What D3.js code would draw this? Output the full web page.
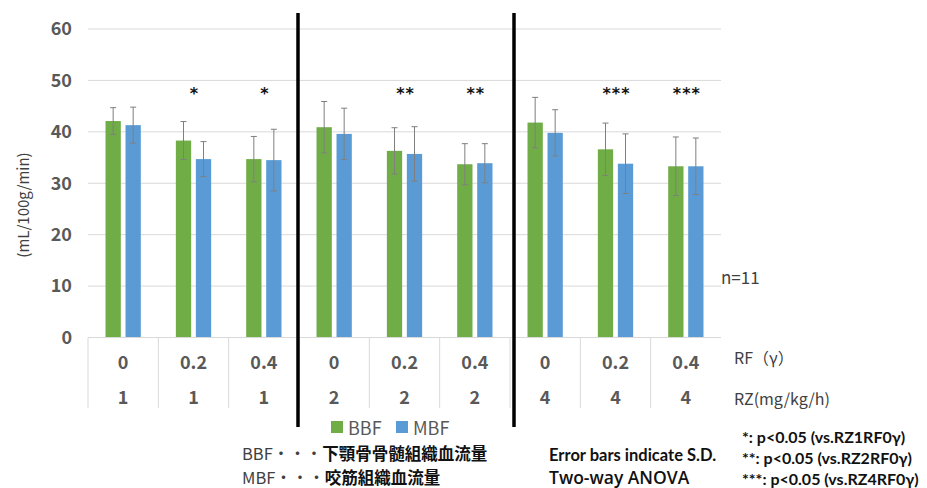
<!DOCTYPE html>
<html>
<head>
<meta charset="utf-8">
<script src="https://cdn.jsdelivr.net/npm/d3@7"></script>
<style>
  html, body { margin: 0; padding: 0; background: #fff; }
  svg { display: block; }
</style>
</head>
<body>
<svg id="chart" width="927" height="488"></svg>
<script>
// Categories: RF dose (row 1) and RZ dose (row 2)
const rfLabels = ["0", "0.2", "0.4", "0", "0.2", "0.4", "0", "0.2", "0.4"];
const rzLabels = ["1", "1", "1", "2", "2", "2", "4", "4", "4"];
const seriesNames = ["BBF", "MBF"];

// Mean blood flow (mL/100g/min)
const bbfMean = [42.1, 38.3, 34.7, 40.9, 36.3, 33.7, 41.8, 36.6, 33.3];
const mbfMean = [41.3, 34.7, 34.5, 39.6, 35.7, 33.9, 39.8, 33.8, 33.3];
// Standard deviations
const bbfSD = [2.6, 3.7, 4.4, 5.0, 4.5, 4.0, 4.9, 5.1, 5.7];
const mbfSD = [3.5, 3.4, 6.0, 5.0, 5.3, 3.8, 4.5, 5.8, 5.5];

// Significance marks above each category
const sigMarks = ["", "*", "*", "", "**", "**", "", "***", "***"];

const yTicks = [0, 10, 20, 30, 40, 50, 60];
const noteLines = [
  "*: p<0.05 (vs.RZ1RF0\u03b3)",
  "**: p<0.05 (vs.RZ2RF0\u03b3)",
  "***: p<0.05 (vs.RZ4RF0\u03b3)"
];

const colors = { BBF: "#70ad47", MBF: "#5b9bd5" };
const gridColor = "#d9d9d9";
const labelColor = "#595959";
const jpFont = "'Noto Sans CJK JP', 'Noto Sans', sans-serif";

const svg = d3.select("#chart");
svg.append("rect").attr("width", 927).attr("height", 488).attr("fill", "#fff");

const plot = { left: 88, right: 721, top: 29, bottom: 337.5 };
const idx = d3.range(rfLabels.length);

const x = d3.scaleBand().domain(idx).range([plot.left, plot.right]).padding(0);
const x1 = d3.scaleBand().domain(seriesNames)
  .range([0, 35.3]).paddingInner(0.235).paddingOuter(0);
const groupOffset = (x.bandwidth() - 35.3) / 2;
const y = d3.scaleLinear().domain([0, 60]).range([plot.bottom, plot.top]);

// Gridlines
svg.append("g").selectAll("line").data(yTicks).join("line")
  .attr("x1", plot.left).attr("x2", plot.right)
  .attr("y1", d => y(d)).attr("y2", d => y(d))
  .attr("stroke", gridColor).attr("stroke-width", 1);

// Y axis labels
const yAxis = d3.axisLeft(y).tickValues(yTicks).tickSize(0).tickPadding(16);
const yg = svg.append("g").attr("transform", `translate(${plot.left},0)`).call(yAxis);
yg.select(".domain").remove();
yg.selectAll("text")
  .attr("fill", labelColor)
  .style("font-family", jpFont)
  .style("font-size", "18px")
  .style("font-weight", "bold");

// Y axis title
svg.append("text")
  .attr("transform", "translate(22,205) rotate(-90)")
  .attr("text-anchor", "middle").attr("dominant-baseline", "central")
  .attr("fill", "#404040")
  .style("font-family", jpFont).style("font-size", "15px")
  .text("(mL/100g/min)");

// Bars + error bars
const rows = [];
idx.forEach(i => {
  rows.push({ i, s: "BBF", v: bbfMean[i], sd: bbfSD[i] });
  rows.push({ i, s: "MBF", v: mbfMean[i], sd: mbfSD[i] });
});
const barX = d => x(d.i) + groupOffset + x1(d.s);

svg.append("g").selectAll("rect").data(rows).join("rect")
  .attr("x", barX)
  .attr("width", x1.bandwidth())
  .attr("y", d => y(d.v))
  .attr("height", d => y(0) - y(d.v))
  .attr("fill", d => colors[d.s]);

const eg = svg.append("g").attr("stroke", "#7f7f7f").attr("stroke-width", 1).attr("fill", "none");
const capHalf = 3;
rows.forEach(d => {
  const cx = barX(d) + x1.bandwidth() / 2;
  const hi = y(d.v + d.sd), lo = y(d.v - d.sd);
  eg.append("line").attr("x1", cx).attr("x2", cx).attr("y1", hi).attr("y2", lo);
  eg.append("line").attr("x1", cx - capHalf).attr("x2", cx + capHalf).attr("y1", hi).attr("y2", hi);
  eg.append("line").attr("x1", cx - capHalf).attr("x2", cx + capHalf).attr("y1", lo).attr("y2", lo);
});

// Significance asterisks
svg.append("g").selectAll("text").data(idx.filter(i => sigMarks[i])).join("text")
  .attr("x", i => x(i) + x.bandwidth() / 2 + 1)
  .attr("y", y(48) + 8)
  .attr("text-anchor", "middle")
  .attr("fill", "#111")
  .style("font-family", "'DejaVu Sans', sans-serif")
  .style("font-size", "16px").style("font-weight", "bold")
  .style("letter-spacing", "1px")
  .text(i => sigMarks[i]);

// Category table below the axis
const tableBottom = 408;
const tg = svg.append("g");
tg.append("line").attr("x1", plot.left).attr("x2", plot.right)
  .attr("y1", plot.bottom).attr("y2", plot.bottom)
  .attr("stroke", gridColor);
tg.selectAll("line.sep").data(idx).join("line")
  .attr("class", "sep")
  .attr("x1", i => x(i)).attr("x2", i => x(i))
  .attr("y1", plot.bottom).attr("y2", tableBottom)
  .attr("stroke", gridColor);

[[rfLabels, 361], [rzLabels, 396]].forEach(([labels, ty]) => {
  tg.append("g").selectAll("text").data(idx).join("text")
    .attr("x", i => x(i) + x.bandwidth() / 2)
    .attr("y", ty)
    .attr("text-anchor", "middle").attr("dominant-baseline", "central")
    .attr("fill", labelColor)
    .style("font-family", jpFont).style("font-size", "18px").style("font-weight", "bold")
    .text(i => labels[i]);
});

const sideText = (tx, ty, str, size) => svg.append("text")
  .attr("x", tx).attr("y", ty).attr("dominant-baseline", "central")
  .attr("fill", "#404040")
  .style("font-family", jpFont).style("font-size", size + "px")
  .text(str);
sideText(734, 357, "RF\uff08\u03b3\uff09", 16);
sideText(734, 398, "RZ(mg/kg/h)", 16);
sideText(721, 276, "n=11", 17);

// Heavy separators between the RZ groups
const sepNudge = [-1, 4];
[3, 6].forEach((i, k) => {
  const sx = x(i) + sepNudge[k];
  svg.append("line").attr("x1", sx).attr("x2", sx)
    .attr("y1", 13).attr("y2", 427)
    .attr("stroke", "#000").attr("stroke-width", 3.5);
});

// Legend
const legend = svg.append("g");
const legendItems = [{ s: "BBF", lx: 331 }, { s: "MBF", lx: 396 }];
legendItems.forEach(d => {
  legend.append("rect").attr("x", d.lx).attr("y", 421).attr("width", 12).attr("height", 12)
    .attr("fill", colors[d.s]);
  legend.append("text").attr("x", d.lx + 17).attr("y", 427)
    .attr("dominant-baseline", "central").attr("fill", labelColor)
    .style("font-family", jpFont).style("font-size", "18px")
    .text(d.s);
});

// Abbreviation key
const keyRows = [
  { abbr: "BBF\u30fb\u30fb\u30fb", name: "\u4e0b\u984e\u9aa8\u9aa8\u9ac4\u7d44\u7e54\u8840\u6d41\u91cf", ky: 453 },
  { abbr: "MBF\u30fb\u30fb\u30fb", name: "\u54ac\u7b4b\u7d44\u7e54\u8840\u6d41\u91cf", ky: 476.5 }
];
keyRows.forEach(r => {
  const t = svg.append("text").attr("x", 242).attr("y", r.ky)
    .attr("dominant-baseline", "central")
    .style("font-family", jpFont).style("font-size", "16.5px");
  t.append("tspan").attr("fill", "#404040").text(r.abbr);
  t.append("tspan").attr("fill", "#111").style("font-weight", "bold").text(r.name);
});

// Statistics notes
svg.append("text").attr("x", 549).attr("y", 455).attr("dominant-baseline", "central")
  .attr("fill", "#111")
  .style("font-family", "Lato, sans-serif").style("font-size", "16.5px").style("font-weight", "bold")
  .text("Error bars indicate S.D.");
svg.append("text").attr("x", 549).attr("y", 477).attr("dominant-baseline", "central")
  .attr("fill", "#111")
  .style("font-family", "'Open Sans', sans-serif").style("font-size", "17.5px").style("font-weight", 600)
  .text("Two-way ANOVA");

svg.append("g").selectAll("text").data(noteLines).join("text")
  .attr("x", 742).attr("y", (d, i) => 436 + i * 21)
  .attr("dominant-baseline", "central")
  .attr("fill", "#111")
  .style("font-family", "Lato, sans-serif").style("font-size", "16px").style("font-weight", "bold")
  .text(d => d);
</script>
</body>
</html>
